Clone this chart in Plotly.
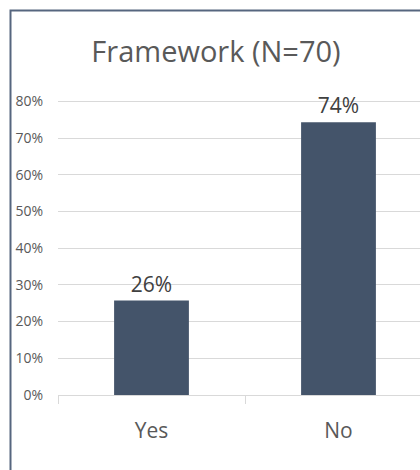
import plotly.graph_objects as go

# Survey responses: does the respondent use a framework? (N=70)
categories = ["Yes", "No"]
shares = [18 / 70, 52 / 70]
title_text = "Framework (N=70)"

bar_color = "#44546A"
text_color = "#595959"
grid_color = "#D9D9D9"
frame_color = "#56667F"

W, H = 420, 470
m_l, m_r, m_t, m_b = 58, 0, 83, 75

fig = go.Figure(
    go.Bar(
        x=categories,
        y=shares,
        width=0.4,
        marker=dict(color=bar_color, line=dict(width=0)),
        texttemplate="%{y:.0%}",
        textposition="outside",
        textfont=dict(family="Open Sans", size=21, color="#404040"),
        cliponaxis=False,
        hoverinfo="skip",
    )
)

# chart frame: rectangle in paper units, extending past the right/bottom edges
pw = W - m_l - m_r
ph = H - m_t - m_b
fig.add_shape(
    type="rect",
    xref="paper", yref="paper",
    x0=(10.5 - m_l) / pw, x1=(W + 20 - m_l) / pw,
    y0=-(m_b + 20) / ph, y1=1 + (m_t - 10.5) / ph,
    line=dict(color=frame_color, width=2),
    fillcolor="rgba(0,0,0,0)",
    layer="above",
)

fig.update_layout(
    width=W, height=H,
    margin=dict(l=m_l, r=m_r, t=m_t, b=m_b, pad=0),
    paper_bgcolor="white",
    plot_bgcolor="white",
    showlegend=False,
    title=dict(
        text=title_text,
        x=(216) / W, xanchor="center",
        y=1 - 52 / H, yanchor="middle",
        font=dict(family="Open Sans", size=29, color=text_color),
    ),
    xaxis=dict(
        range=[-0.5, -0.5 + pw / 187.0],
        showgrid=False,
        showline=True, linecolor=grid_color, linewidth=1,
        ticks="outside", tickson="boundaries", ticklen=8,
        tickcolor=grid_color, tickwidth=1,
        tickfont=dict(family="Open Sans", size=21, color=text_color),
        ticklabelstandoff=17,
        fixedrange=True,
    ),
    yaxis=dict(
        range=[0, 0.85],
        dtick=0.1,
        tickformat=".0%",
        showgrid=True, gridcolor=grid_color, gridwidth=1,
        zeroline=False,
        showline=False,
        ticks="",
        tickfont=dict(family="Open Sans", size=14, color=text_color),
        ticklabelstandoff=14,
        fixedrange=True,
    ),
)

fig.write_html("out.html")
